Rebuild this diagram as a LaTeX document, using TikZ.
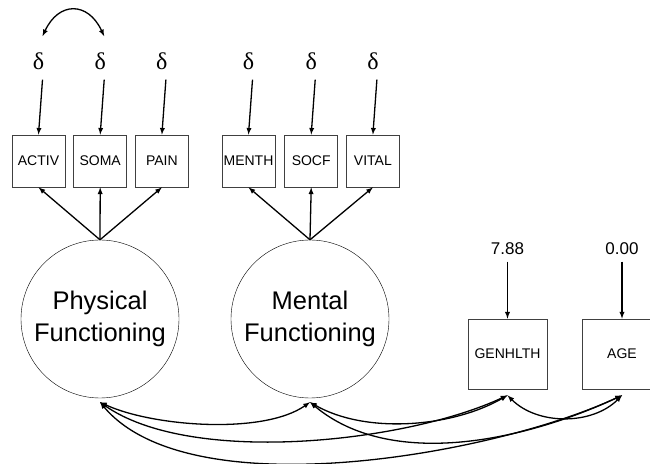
\documentclass[tikz,border=0pt]{standalone}
\usepackage{fontspec}
\setmainfont{Liberation Sans}
\newfontfamily\deltafont{Liberation Serif}
\usetikzlibrary{arrows,shapes,positioning}
\tikzset{
    basic/.style  = {draw=black!75, text=black, line width=0.7pt, inner sep=0pt},
    indicator/.style = {basic, rectangle, minimum width=53pt, minimum height=52pt, font=\fontsize{14}{14}\selectfont},
    manifest/.style  = {basic, rectangle, minimum width=79pt, minimum height=70pt, font=\fontsize{14}{14}\selectfont},
    latent/.style = {circle, draw, thin, minimum size=158pt, inner sep=0pt, align=center, font=\fontsize{25.5}{32}\selectfont},
    error/.style  = {minimum height=36pt, inner sep=0pt, font=\deltafont\fontsize{24}{24}\selectfont},
    mean/.style   = {minimum height=26pt, inner sep=0pt, font=\fontsize{17}{17}\selectfont},
    regress/.style = {->, line width=1.3pt},
    covar/.style   = {<->, line width=1.3pt}
}

\begin{document}
\begin{tikzpicture}[x=1pt,y=1pt,>=latex,node distance=8pt]
    \clip (0,0) rectangle (650,463);
    % latent factors
    \node[latent] (phys) at (100,144) {Physical\\Functioning};
    \node[latent] (ment) at (310,144) {Mental\\Functioning};
    % indicators
    \node[indicator] (activ) at (38.5,302) {ACTIV};
    \node[indicator, right=of activ] (soma) {SOMA};
    \node[indicator, right=of soma] (pain) {PAIN};
    \node[indicator] (menth) at (248.5,302) {MENTH};
    \node[indicator, right=9pt of menth] (socf) {SOCF};
    \node[indicator, right=of socf] (vital) {VITAL};
    % covariates
    \node[manifest] (gen) at (507.5,109) {GENHLTH};
    \node[manifest] (age) at (622,109) {AGE};
    \node[mean, above=57pt of gen] (mgen) {7.88};
    \node[mean, above=57pt of age] (mage) {0.00};
    % errors
    \foreach \v/\d in {activ/d1, soma/d2, pain/d3, menth/d4, socf/d5, vital/d6} {
        \node[error, above=55pt of \v] (\d) {δ};
        \draw[regress] ([xshift=4pt]\d.south) -- (\v.north);
    }
    \draw[covar] ([xshift=4pt,yshift=7pt]d1.north) to[out=65,in=115,looseness=1.6] ([xshift=4pt,yshift=7pt]d2.north);
    % loadings
    \foreach \v in {activ, soma, pain}
        \draw[regress] (phys.north) -- (\v.south);
    \foreach \v in {menth, socf, vital}
        \draw[regress] (ment.north) -- (\v.south);
    \draw[regress] (mgen) -- (gen);
    \draw[regress] (mage) -- (age);
    % covariances
    \coordinate (cp) at ([yshift=-4pt]phys.south);
    \coordinate (cm) at ([yshift=-4pt]ment.south);
    \coordinate (cg) at ([yshift=-6pt]gen.south);
    \coordinate (ca) at ([yshift=-6pt]age.south);
    \draw[covar] (cp) to[out=-25,in=-145,looseness=0.7] (cm);
    \draw[covar] (cp) to[out=-35,in=-155,looseness=0.7] (cg);
    \draw[covar] (cp) to[out=-50,in=-155,looseness=0.685] (ca);
    \draw[covar] (cm) to[out=-30,in=-150,looseness=0.83] (cg);
    \draw[covar] (cm) to[out=-40,in=-155,looseness=0.87] (ca);
    \draw[covar] (cg) to[out=-45,in=-135,looseness=0.95] (ca);
\end{tikzpicture}
\end{document}
